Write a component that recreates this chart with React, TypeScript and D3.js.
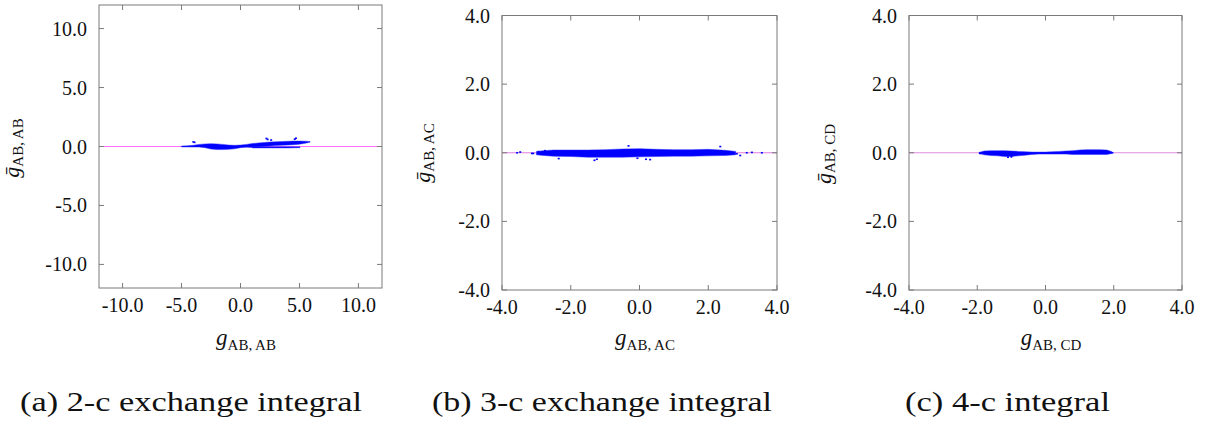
import React from "react";
import * as d3 from "d3";

// Axis ticks
const ticksA = [-10, -5, 0, 5, 10];
const ticksBC = [-4, -2, 0, 2, 4];

// (a) 2-center exchange integral: dense core band (x, upper, lower) and a lower streak
const bandAX = [-5.0, -4.5, -4.0, -3.5, -3.0, -2.5, -2.0, -1.5, -1.0, -0.5, 0.0, 0.5, 1.0, 1.5, 2.0, 2.5, 3.0, 3.5, 4.0, 4.5, 5.0, 5.5, 5.9];
const bandAUpper = [0.04, 0.06, 0.1, 0.18, 0.22, 0.24, 0.22, 0.18, 0.12, 0.1, 0.12, 0.18, 0.25, 0.3, 0.34, 0.38, 0.4, 0.42, 0.44, 0.46, 0.46, 0.45, 0.42];
const bandALower = [-0.04, -0.04, -0.05, -0.05, -0.1, -0.22, -0.26, -0.26, -0.24, -0.2, -0.1, -0.06, -0.08, -0.05, 0.0, 0.05, 0.08, 0.1, 0.12, 0.15, 0.2, 0.28, 0.36];
const streakAX = [1.0, 2.0, 3.0, 4.0, 5.05];
const streakAUpper = [-0.02, -0.02, -0.02, -0.02, -0.03];
const streakALower = [-0.12, -0.12, -0.12, -0.12, -0.1];
const outliersA: [number, number][] = [
  [-4.0, 0.39], [-3.9, 0.35], [2.2, 0.68], [2.3, 0.6], [2.6, 0.55], [4.7, 0.7], [4.6, 0.62],
];

// (b) 3-center exchange integral
const bandBX = [-3.0, -2.8, -2.5, -2.0, -1.5, -1.0, -0.5, 0.0, 0.5, 1.0, 1.5, 2.0, 2.5, 2.8];
const bandBUpper = [0.04, 0.06, 0.08, 0.08, 0.08, 0.09, 0.11, 0.12, 0.1, 0.09, 0.09, 0.1, 0.07, 0.04];
const bandBLower = [-0.06, -0.08, -0.1, -0.11, -0.13, -0.13, -0.13, -0.12, -0.11, -0.1, -0.1, -0.09, -0.08, -0.06];
const outliersB: [number, number][] = [
  [-3.56, 0.0], [-3.47, 0.02], [-3.13, -0.02], [-3.09, -0.02], [-2.94, 0.03], [-2.75, 0.06],
  [-2.35, -0.17], [-1.31, -0.22], [-1.24, -0.19], [-0.32, 0.2], [-0.06, -0.16], [0.19, -0.19],
  [0.31, -0.2], [2.35, 0.18], [2.83, -0.03], [2.93, -0.08], [3.12, 0.0], [3.27, 0.01], [3.56, 0.0],
];

// (c) 4-center integral
const bandCX = [-1.95, -1.8, -1.6, -1.4, -1.2, -1.0, -0.8, -0.6, -0.4, -0.2, 0.0, 0.2, 0.4, 0.6, 0.8, 1.0, 1.2, 1.4, 1.6, 1.8, 1.95];
const bandCUpper = [0.01, 0.05, 0.06, 0.06, 0.06, 0.05, 0.04, 0.03, 0.02, 0.02, 0.02, 0.03, 0.04, 0.05, 0.06, 0.08, 0.09, 0.09, 0.09, 0.08, 0.03];
const bandCLower = [-0.02, -0.06, -0.08, -0.09, -0.11, -0.11, -0.09, -0.07, -0.05, -0.04, -0.04, -0.04, -0.04, -0.04, -0.05, -0.05, -0.05, -0.05, -0.05, -0.05, -0.02];
const outliersC: [number, number][] = [
  [-1.92, -0.02], [-1.1, -0.13], [-1.0, -0.12], [1.96, 0.0],
];

const captions = ["(a) 2-c exchange integral", "(b) 3-c exchange integral", "(c) 4-c integral"];
const subscripts = ["AB, AB", "AB, AC", "AB, CD"];

type Band = { x: number[]; upper: number[]; lower: number[] };

interface PanelProps {
  left: number; right: number; top: number; bottom: number;
  limit: number; ticks: number[];
  bands: Band[]; outliers: [number, number][];
  sub: string; yLabelX: number; yLabelY: number; xLabelX: number;
  zeroColor: string;
}

const FONT = "Liberation Serif, Tinos, Times New Roman, Times, Nimbus Roman, serif";
const BLUE = "#0000ff";
const fontStyle = { fontFamily: FONT };

function Panel(p: PanelProps) {
  const x = d3.scaleLinear().domain([-p.limit, p.limit]).range([p.left, p.right]);
  const y = d3.scaleLinear().domain([-p.limit, p.limit]).range([p.bottom, p.top]);
  const area = d3
    .area<[number, number, number]>()
    .x((d) => x(d[0]))
    .y0((d) => y(d[2]))
    .y1((d) => y(d[1]));
  const fmt = (v: number) => d3.format(".1f")(v).replace("\u2212", "-");
  const tl = 5;
  return (
    <g>
      <line x1={p.left} x2={p.right} y1={y(0)} y2={y(0)} stroke={p.zeroColor} strokeWidth={1.2} />
      {p.bands.map((b, i) => (
        <path
          key={i}
          d={area(b.x.map((v, j) => [v, b.upper[j], b.lower[j]] as [number, number, number])) || ""}
          fill={BLUE}
          stroke="#2a2aff"
          strokeWidth={0.8}
          strokeOpacity={0.6}
        />
      ))}
      {p.outliers.map((d, i) => (
        <rect key={i} x={x(d[0]) - 1} y={y(d[1]) - 0.8} width={2} height={1.6} fill={BLUE} />
      ))}
      <rect x={p.left} y={p.top} width={p.right - p.left} height={p.bottom - p.top} fill="none" stroke="#7a7a7a" strokeWidth={1} />
      {p.ticks.map((t) => (
        <g key={"x" + t}>
          <line x1={x(t)} x2={x(t)} y1={p.bottom} y2={p.bottom - tl} stroke="#7a7a7a" />
          <line x1={x(t)} x2={x(t)} y1={p.top} y2={p.top + tl} stroke="#7a7a7a" />
          <text x={x(t)} y={p.bottom + 24} textAnchor="middle" style={fontStyle} fontSize={20} fill="#111">
            {fmt(t)}
          </text>
        </g>
      ))}
      {p.ticks.map((t) => (
        <g key={"y" + t}>
          <line x1={p.left} x2={p.left + tl} y1={y(t)} y2={y(t)} stroke="#7a7a7a" />
          <line x1={p.right} x2={p.right - tl} y1={y(t)} y2={y(t)} stroke="#7a7a7a" />
          <text x={p.left - 12} y={y(t)} dy="0.35em" textAnchor="end" style={fontStyle} fontSize={20} fill="#111">
            {fmt(t)}
          </text>
        </g>
      ))}
      <text x={p.xLabelX} y={345} textAnchor="middle" style={fontStyle} fill="#111">
        <tspan fontStyle="italic" fontSize={23}>g</tspan>
        <tspan fontSize={15} dy={5}>{p.sub}</tspan>
      </text>
      <text
        transform={`translate(${p.yLabelX},${p.yLabelY}) rotate(-90)`}
        textAnchor="middle"
        style={fontStyle}
        fill="#111"
      >
        <tspan fontStyle="italic" fontSize={22}>{"\u1E21"}</tspan>
        <tspan fontSize={15} dy={4}>{p.sub}</tspan>
      </text>
    </g>
  );
}

export default function App() {
  return (
    <svg
      width={1206}
      height={422}
      style={{ position: "absolute", left: 0, top: 0, background: "#fff" }}
    >
      <rect width={1206} height={422} fill="#fff" />
      <Panel
        left={99} right={382} top={5} bottom={288} limit={12} ticks={ticksA}
        bands={[
          { x: bandAX, upper: bandAUpper, lower: bandALower },
          { x: streakAX, upper: streakAUpper, lower: streakALower },
        ]}
        outliers={outliersA} sub={subscripts[0]}
        yLabelX={19} yLabelY={148} xLabelX={246} zeroColor="#ff70ff"
      />
      <Panel
        left={502} right={777} top={15.5} bottom={290} limit={4} ticks={ticksBC}
        bands={[{ x: bandBX, upper: bandBUpper, lower: bandBLower }]}
        outliers={outliersB} sub={subscripts[1]}
        yLabelX={430} yLabelY={153} xLabelX={645} zeroColor="#e07ce0"
      />
      <Panel
        left={909} right={1182} top={15.5} bottom={290} limit={4} ticks={ticksBC}
        bands={[{ x: bandCX, upper: bandCUpper, lower: bandCLower }]}
        outliers={outliersC} sub={subscripts[2]}
        yLabelX={831} yLabelY={154} xLabelX={1051} zeroColor="#e08ae0"
      />
      {captions.map((c, i) => (
        <text
          key={c}
          x={[20, 432, 905][i]}
          y={411}
          style={fontStyle}
          fontSize={28}
          fill="#111"
          textLength={[342, 340, 205][i]}
          lengthAdjust="spacingAndGlyphs"
        >
          {c}
        </text>
      ))}
    </svg>
  );
}
